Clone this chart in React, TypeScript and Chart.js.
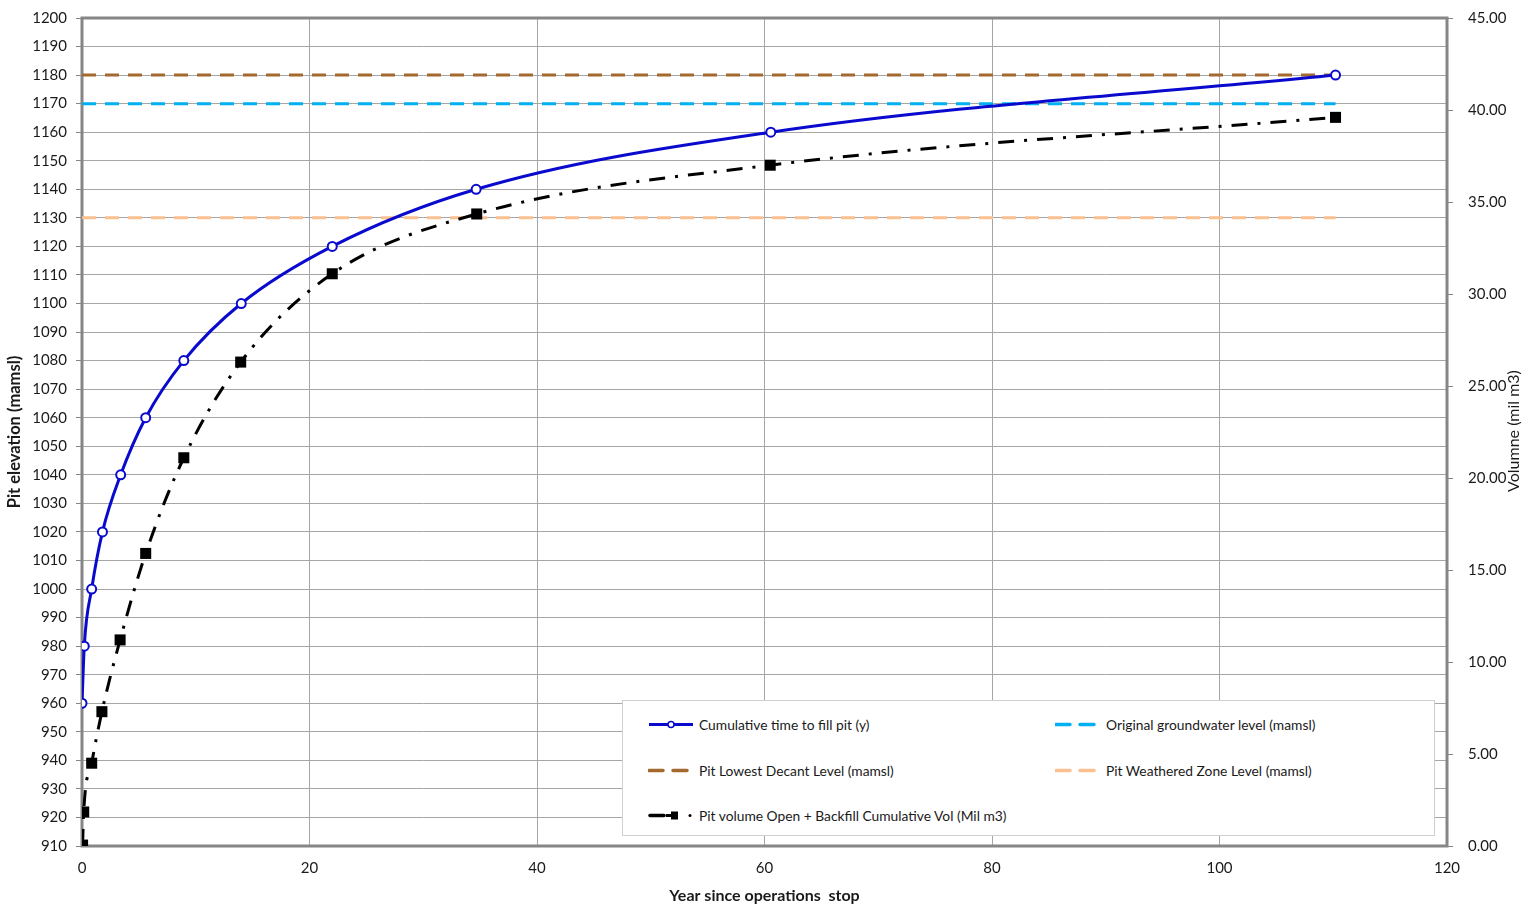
import React, { useEffect, useRef } from "react";
import { Chart, registerables } from "chart.js";

Chart.register(...registerables);

// ---- Data ----
const years = [0, 0.2, 0.85, 1.8, 3.4, 5.6, 8.95, 14.0, 22.0, 34.65, 60.55, 110.2];
const elevation = [960, 980, 1000, 1020, 1040, 1060, 1080, 1100, 1120, 1140, 1160, 1180];
const volumeYears = [0.05, 0.15, 0.85, 1.75, 3.35, 5.6, 8.95, 13.95, 22.0, 34.7, 60.5, 110.2];
const volume = [0.05, 1.85, 4.5, 7.3, 11.2, 15.9, 21.1, 26.3, 31.1, 34.35, 37.0, 39.6];
const levelSpan = [0, 110.2];
const decantLevel = 1180;
const groundwaterLevel = 1170;
const weatheredLevel = 1130;

const seriesNames = {
  fill: "Cumulative time to fill pit (y)",
  groundwater: "Original groundwater level (mamsl)",
  decant: "Pit Lowest Decant Level (mamsl)",
  weathered: "Pit Weathered Zone Level (mamsl)",
  volume: "Pit volume Open + Backfill Cumulative Vol (Mil m3)",
};

const xTitle = "Year since operations  stop";
const yTitle = "Pit elevation (mamsl)";
const y1Title = "Volumne (mil m3)";

const BLUE = "#0A0ACF";
const CYAN = "#00B0F0";
const BROWN = "#A3692F";
const PEACH = "#FAC090";
const GRID = "#A6A6A6";
const AXIS = "#868686";
const TEXT = "#1a1a1a";
const FONT = "Lato, 'Liberation Sans', sans-serif";

const borderPlugin = {
  id: "plotBorder",
  beforeDatasetsDraw(chart: any) {
    const { ctx, chartArea } = chart;
    ctx.save();
    ctx.strokeStyle = AXIS;
    ctx.lineWidth = 3;
    ctx.strokeRect(chartArea.left, chartArea.top, chartArea.right - chartArea.left, chartArea.bottom - chartArea.top);
    ctx.restore();
  },
  afterDraw(chart: any) {
    const { ctx } = chart;
    ctx.save();
    ctx.fillStyle = TEXT;
    ctx.font = `16px ${FONT}`;
    ctx.textAlign = "center";
    ctx.textBaseline = "middle";
    ctx.translate(1514, 431);
    ctx.rotate(-Math.PI / 2);
    ctx.fillText(y1Title, 0, 0);
    ctx.restore();
  },
};

function levelData(v: number) {
  return levelSpan.map((x) => ({ x, y: v }));
}

function zeroPad(scale: any) {
  scale.paddingTop = 0;
  scale.paddingBottom = 0;
  scale.paddingLeft = 0;
  scale.paddingRight = 0;
}

export default function App() {
  const ref = useRef<HTMLCanvasElement>(null);

  useEffect(() => {
    if (!ref.current) return;
    const chart = new Chart(ref.current, {
      type: "scatter",
      data: {
        datasets: [
          {
            label: seriesNames.fill,
            data: years.map((x, i) => ({ x, y: elevation[i] })),
            showLine: true,
            borderColor: BLUE,
            borderWidth: 3,
            cubicInterpolationMode: "monotone",
            pointRadius: 4.5,
            pointBorderWidth: 2,
            pointBackgroundColor: "#ffffff",
            pointBorderColor: BLUE,
            yAxisID: "y",
            order: 0,
          },
          {
            label: seriesNames.volume,
            data: volumeYears.map((x, i) => ({ x, y: volume[i] })),
            showLine: true,
            borderColor: "#000000",
            borderWidth: 3,
            borderDash: [16, 10, 3, 10],
            cubicInterpolationMode: "monotone",
            pointStyle: "rect",
            pointRadius: 7.8,
            pointBackgroundColor: "#000000",
            pointBorderColor: "#000000",
            pointBorderWidth: 0,
            yAxisID: "y1",
            order: 1,
          },
          {
            label: seriesNames.decant,
            data: levelData(decantLevel),
            showLine: true,
            borderColor: BROWN,
            borderWidth: 3,
            borderDash: [14, 9],
            pointRadius: 0,
            yAxisID: "y",
            order: 2,
          },
          {
            label: seriesNames.groundwater,
            data: levelData(groundwaterLevel),
            showLine: true,
            borderColor: CYAN,
            borderWidth: 3,
            borderDash: [14, 9],
            pointRadius: 0,
            yAxisID: "y",
            order: 3,
          },
          {
            label: seriesNames.weathered,
            data: levelData(weatheredLevel),
            showLine: true,
            borderColor: PEACH,
            borderWidth: 3,
            borderDash: [14, 9],
            pointRadius: 0,
            yAxisID: "y",
            order: 4,
          },
        ],
      },
      options: {
        animation: false,
        responsive: false,
        maintainAspectRatio: false,
        layout: { padding: { top: 18, left: 0, right: 0, bottom: 0 } },
        plugins: {
          legend: { display: false },
          tooltip: { enabled: false },
        },
        scales: {
          x: {
            type: "linear",
            min: 0,
            max: 120,
            ticks: { stepSize: 20, color: TEXT, font: { family: FONT, size: 15 }, padding: 13, callback: (v: any) => String(v) },
            grid: { color: GRID, lineWidth: 1, drawTicks: false },
            border: { display: false },
            title: { display: true, text: xTitle, color: TEXT, font: { family: FONT, size: 16, weight: "bold" }, padding: { top: 0, bottom: 0 } },
            afterFit(scale: any) {
              scale.height = 59;
              zeroPad(scale);
            },
          },
          y: {
            type: "linear",
            position: "left",
            min: 910,
            max: 1200,
            ticks: { stepSize: 10, color: TEXT, font: { family: FONT, size: 15 }, padding: 9, callback: (v: any) => String(v) },
            grid: { color: GRID, lineWidth: 1, tickLength: 6, tickColor: AXIS },
            border: { display: false },
            title: { display: true, text: yTitle, color: TEXT, font: { family: FONT, size: 16.5, weight: "bold" }, padding: { top: 5, bottom: 0 } },
            afterFit(scale: any) {
              scale.width = 82;
              zeroPad(scale);
            },
          },
          y1: {
            type: "linear",
            position: "right",
            min: 0,
            max: 45,
            ticks: { stepSize: 5, color: TEXT, font: { family: FONT, size: 15 }, padding: 15, callback: (v: any) => Number(v).toFixed(2) },
            grid: { drawOnChartArea: false, tickLength: 6, tickColor: AXIS },
            border: { display: false },
            title: { display: false },
            afterFit(scale: any) {
              scale.width = 81;
              zeroPad(scale);
            },
          },
        },
      },
      plugins: [borderPlugin],
    });
    return () => chart.destroy();
  }, []);

  const dash = (color: string) => (
    <svg width="46" height="10" style={{ display: "block" }}>
      <line x1="1" y1="5" x2="45" y2="5" stroke={color} strokeWidth="3.5" strokeDasharray="14 10" strokeLinecap="round" />
    </svg>
  );

  const itemStyle = (left: number, top: number): React.CSSProperties => ({
    position: "absolute",
    left,
    top,
    transform: "translateY(-50%)",
    display: "flex",
    alignItems: "center",
    gap: 5,
    whiteSpace: "nowrap",
  });

  return (
    <div style={{ position: "fixed", left: 0, top: 0, width: 1528, height: 905, background: "#fff" }}>
      <canvas ref={ref} width={1528} height={905} style={{ display: "block", width: 1528, height: 905 }} />
      <div
        style={{
          position: "absolute",
          left: 622,
          top: 700,
          width: 813,
          height: 136,
          background: "#fff",
          border: "1px solid #cfcfcf",
          boxSizing: "border-box",
          fontFamily: FONT,
          fontSize: 13.8,
          color: TEXT,
        }}
      >
        <div style={itemStyle(25, 23)}>
          <svg width="46" height="10" style={{ display: "block" }}>
            <line x1="1" y1="5" x2="45" y2="5" stroke={BLUE} strokeWidth="3" />
            <circle cx="23" cy="5" r="3" fill="#fff" stroke={BLUE} strokeWidth="1.5" />
          </svg>
          <span>{seriesNames.fill}</span>
        </div>
        <div style={itemStyle(432, 23)}>
          {dash(CYAN)}
          <span>{seriesNames.groundwater}</span>
        </div>
        <div style={itemStyle(25, 69)}>
          {dash(BROWN)}
          <span>{seriesNames.decant}</span>
        </div>
        <div style={itemStyle(432, 69)}>
          {dash(PEACH)}
          <span>{seriesNames.weathered}</span>
        </div>
        <div style={itemStyle(25, 114)}>
          <svg width="46" height="10" style={{ display: "block" }}>
            <line x1="2" y1="5" x2="16" y2="5" stroke="#000" strokeWidth="3.5" strokeLinecap="round" />
            <line x1="18" y1="5" x2="24" y2="5" stroke="#000" strokeWidth="3" />
            <rect x="23" y="1" width="7" height="8" fill="#000" />
            <circle cx="42" cy="5" r="1.5" fill="#000" />
          </svg>
          <span>{seriesNames.volume}</span>
        </div>
      </div>
    </div>
  );
}
